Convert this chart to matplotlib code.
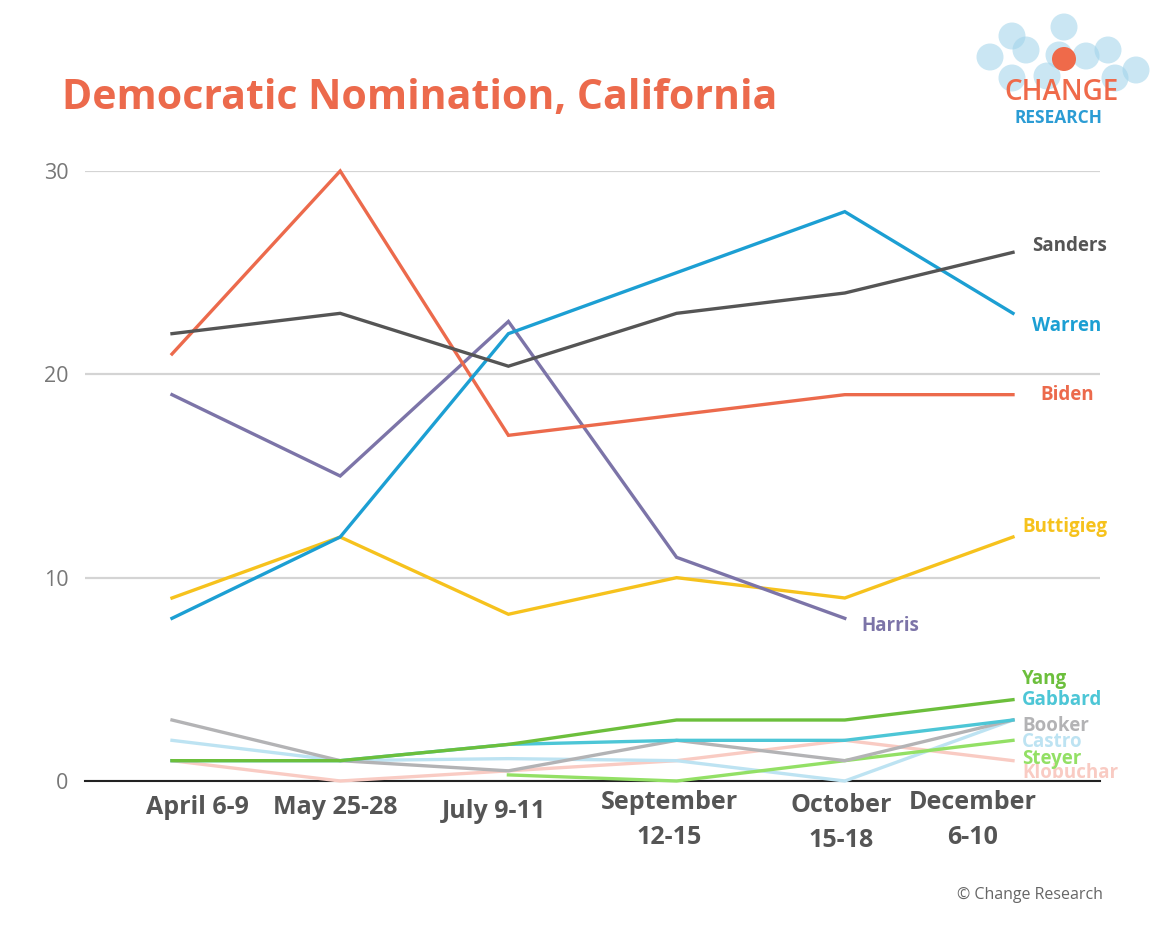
import numpy as np
import matplotlib
matplotlib.use("Agg")
import matplotlib.pyplot as plt
from matplotlib.patches import Circle

plt.rcParams['font.family'] = ['Open Sans', 'DejaVu Sans']

# poll dates
dates = ['April 6-9', 'May 25-28', 'July 9-11', 'September\n12-15', 'October\n15-18', 'December\n6-10']

# candidate support (%), None = not polled
sanders = [22, 23, 20.4, 23, 24, 26]
warren = [8, 12, 22, 25, 28, 23]
biden = [21, 30, 17, 18, 19, 19]
harris = [19, 15, 22.6, 11, 8, None]
buttigieg = [9, 12, 8.2, 10, 9, 12]
yang = [1, 1, 1.8, 3, 3, 4]
gabbard = [1, 1, 1.8, 2, 2, 3]
booker = [3, 1, 0.5, 2, 1, 3]
castro = [2, 1, 1.1, 1, 0, 3]
steyer = [None, None, 0.3, 0, 1, 2]
klobuchar = [1, 0, 0.5, 1, 2, 1]

series = [
    ('Klobuchar', klobuchar, '#f9cbc3'),
    ('Castro', castro, '#bde3f2'),
    ('Steyer', steyer, '#93e065'),
    ('Booker', booker, '#b3b3b5'),
    ('Gabbard', gabbard, '#4dc6d6'),
    ('Yang', yang, '#6cbf3c'),
    ('Buttigieg', buttigieg, '#f6c21d'),
    ('Harris', harris, '#7c74a8'),
    ('Biden', biden, '#ec6a4c'),
    ('Warren', warren, '#1c9fd3'),
    ('Sanders', sanders, '#555555'),
]

# where each end label sits: (x index, px offset, y value)
labels = {
    'Sanders':   (5, 19, 26.3),
    'Warren':    (5, 19, 22.4),
    'Biden':     (5, 27, 19),
    'Buttigieg': (5, 9, 12.5),
    'Harris':    (4, 17, 7.6),
    'Yang':      (5, 9, 5.0),
    'Gabbard':   (5, 9, 4.0),
    'Booker':    (5, 9, 2.7),
    'Castro':    (5, 9, 1.9),
    'Steyer':    (5, 9, 1.1),
    'Klobuchar': (5, 9, 0.4),
}

W, H = 1175, 927
fig = plt.figure(figsize=(W / 100, H / 100), dpi=100)
ax = fig.add_axes([85 / W, 1 - 781 / H, (1100 - 85) / W, (781 - 171) / H])

x = np.arange(len(dates))
for name, vals, col in series:
    v = np.array([np.nan if a is None else a for a in vals], dtype=float)
    ax.plot(x, v, color=col, lw=2.4, clip_on=False, solid_joinstyle='miter', zorder=3)
    xi, dx, yv = labels[name]
    ax.annotate(name, xy=(xi, yv), xytext=(dx, 0), textcoords='offset pixels',
                color=col, fontsize=13.5, fontweight='bold', ha='left', va='center',
                annotation_clip=False)

ax.set_xlim(-(172 - 85) / 168.2, 5 + (1100 - 1013) / 168.2)
ax.set_ylim(0, 30)
ax.set_yticks([0, 10, 20, 30])
ax.set_yticklabels(['0', '10', '20', '30'], fontsize=15.5, color='#777777')
ax.tick_params(axis='y', length=0, pad=12)
ax.set_xticks([])
ax.grid(axis='y', color='#d4d4d4', lw=1.6)
ax.set_axisbelow(True)
for s in ['left', 'right', 'top']:
    ax.spines[s].set_visible(False)
ax.spines['bottom'].set_color('#222222')
ax.spines['bottom'].set_linewidth(1.5)
ax.spines['bottom'].set_zorder(2)

# date labels, hand-nudged like the original
nudges = [(25, -27), (-5, -27), (-14, -31), (-7, -39), (-4, -42), (-40, -39)]
for i, (d, (dx, dy)) in enumerate(zip(dates, nudges)):
    ax.annotate(d, xy=(i, 0), xycoords=('data', 'axes fraction'), xytext=(dx, dy),
                textcoords='offset pixels', ha='center', va='center', fontsize=18,
                fontweight='bold', color='#555555', linespacing=1.5,
                annotation_clip=False)

fig.text(62 / W, 1 - 98 / H, 'Democratic Nomination, California', fontsize=29.5,
         fontweight='bold', color='#ec6a4c', ha='left', va='center')
fig.text(1103 / W, 1 - 895 / H, '\u00a9 Change Research', fontsize=11.5,
         color='#666666', ha='right', va='center')

# logo
lax = fig.add_axes([940 / W, 1 - 140 / H, 235 / W, 140 / H])
lax.set_xlim(940, 1175)
lax.set_ylim(140, 0)
lax.axis('off')
bubbles = [(990, 57), (1012, 36), (1026, 50), (1064, 27), (1059, 55), (1086, 56),
           (1108, 50), (1136, 70), (1012, 78), (1047, 76), (1115, 78)]
for cx, cy in bubbles:
    lax.add_patch(Circle((cx, cy), 13.5, color='#9fd3ea', alpha=0.55, lw=0))
lax.add_patch(Circle((1064, 59), 12, color='#ef6a4a', lw=0))
lax.text(1062, 93, 'CHANGE', fontsize=20, fontweight='semibold', color='#ef6a4a',
         ha='center', va='center')
lax.text(1058, 118, 'RESEARCH', fontsize=12.5, fontweight='bold', color='#2b9cd4',
         ha='center', va='center')

fig.savefig('out.png', dpi=100)
